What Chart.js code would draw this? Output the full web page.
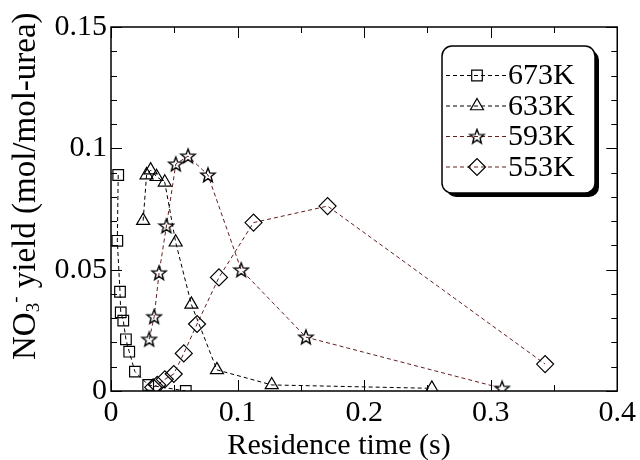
<!DOCTYPE html>
<html>
<head>
<meta charset="UTF-8">
<title>NO3- yield</title>
<script src="https://cdn.jsdelivr.net/npm/chart.js@4/dist/chart.umd.min.js"></script>
<style>
  body { margin: 0; background: #fff; font-family: "Liberation Serif", "Times New Roman", serif; }
  #wrap { width: 640px; height: 460px; }
</style>
</head>
<body>
<div id="wrap"><canvas id="chart-no3" width="640" height="460"></canvas></div>

<script>
  // residence time (s) and NO3- yield, one pair of arrays per temperature
  const labels = ["673K", "633K", "593K", "553K"];

  const t673 = [0.0057, 0.0050, 0.0071, 0.0077, 0.0097, 0.0118, 0.0144, 0.0189, 0.0294, 0.0591];
  const y673 = [0.0890, 0.0619, 0.0409, 0.0324, 0.0290, 0.0213, 0.0162, 0.0080, 0.0025, 0.0000];

  const t633 = [0.0254, 0.0281, 0.0313, 0.0360, 0.0425, 0.0511, 0.0635, 0.0837, 0.1270, 0.2535];
  const y633 = [0.0702, 0.0890, 0.0910, 0.0883, 0.0860, 0.0613, 0.0357, 0.0087, 0.0025, 0.0011];

  const t593 = [0.0302, 0.0341, 0.0380, 0.0438, 0.0512, 0.0609, 0.0766, 0.1029, 0.1540, 0.3090];
  const y593 = [0.0213, 0.0306, 0.0487, 0.0680, 0.0935, 0.0968, 0.0890, 0.0499, 0.0222, 0.0011];

  const t553 = [0.0333, 0.0365, 0.0425, 0.0496, 0.0575, 0.0680, 0.0853, 0.1126, 0.1711, 0.3430];
  const y553 = [0.0015, 0.0025, 0.0048, 0.0070, 0.0155, 0.0276, 0.0468, 0.0694, 0.0762, 0.0111];

  const xTickLabels = ["0", "0.1", "0.2", "0.3", "0.4"];
  const yTickLabels = ["0", "0.05", "0.1", "0.15"];

  const FONT = "'Liberation Serif', 'DejaVu Serif', serif";
  const DARK_RED = "#641e1e";

  function pairs(xs, ys) {
    return xs.map((x, i) => ({ x: x, y: ys[i] }));
  }

  // hollow five point star, chart.js has no such point style
  function makeStar() {
    let c = document.createElement("canvas");
    c.width = 18;
    c.height = 18;
    let g = c.getContext("2d");
    g.beginPath();
    for (let i = 0; i < 10; i++) {
      let r = i % 2 == 0 ? 7.5 : 3.2;
      let a = -Math.PI / 2 + i * Math.PI / 5;
      let px = 9 + r * Math.cos(a);
      let py = 9.5 + r * Math.sin(a);
      if (i == 0) g.moveTo(px, py);
      else g.lineTo(px, py);
    }
    g.closePath();
    g.lineWidth = 1.4;
    g.strokeStyle = "#000";
    g.stroke();
    return c;
  }
  const star = makeStar();

  function series(i, xs, ys, color, style, radius) {
    return {
      label: labels[i],
      data: pairs(xs, ys),
      borderColor: color,
      borderWidth: 1,
      borderDash: [4, 3],
      pointStyle: style,
      pointRadius: radius,
      pointBorderColor: "#000",
      pointBorderWidth: 1.2,
      pointBackgroundColor: "rgba(0,0,0,0)",
      tension: 0,
    };
  }

  const data = {
    datasets: [
      series(0, t673, y673, "#000", "rect", 7.5),
      series(1, t633, y633, "#000", "triangle", 7.5),
      series(2, t593, y593, DARK_RED, star, 7),
      series(3, t553, y553, DARK_RED, "rectRot", 8.5),
    ],
  };

  // frame, inward ticks, axis titles and the boxed legend
  const decorations = {
    id: "decorations",
    afterDraw(chart) {
      const ctx = chart.ctx;
      const a = chart.chartArea;
      const xs = chart.scales.x;
      const ys = chart.scales.y;
      ctx.save();

      ctx.strokeStyle = "#000";
      ctx.lineWidth = 1.5;
      ctx.strokeRect(a.left, a.top, a.right - a.left, a.bottom - a.top);

      ctx.lineWidth = 1;
      ctx.beginPath();
      for (let k = 0; k <= 8; k++) {
        let v = k * 0.05;
        let px = Math.round(xs.getPixelForValue(v)) + 0.5;
        let len = k % 2 == 0 ? 11 : 6;
        ctx.moveTo(px, a.bottom);
        ctx.lineTo(px, a.bottom - len);
        ctx.moveTo(px, a.top);
        ctx.lineTo(px, a.top + len);
      }
      for (let k = 0; k <= 15; k++) {
        let v = k * 0.01;
        let py = Math.round(ys.getPixelForValue(v)) + 0.5;
        let len = k % 5 == 0 ? 11 : 6;
        ctx.moveTo(a.left, py);
        ctx.lineTo(a.left + len, py);
        ctx.moveTo(a.right, py);
        ctx.lineTo(a.right - len, py);
      }
      ctx.stroke();

      // axis titles
      ctx.fillStyle = "#000";
      ctx.font = "30px " + FONT;
      ctx.textAlign = "center";
      ctx.textBaseline = "alphabetic";
      ctx.fillText("Residence time (s)", 339, 454);

      ctx.save();
      ctx.translate(35, 360);
      ctx.rotate(-Math.PI / 2);
      ctx.textAlign = "left";
      let x = 0;
      ctx.font = "33px " + FONT;
      ctx.fillText("NO", x, 0);
      x += ctx.measureText("NO").width;
      ctx.font = "19px " + FONT;
      ctx.fillText("3", x, 4);
      x += ctx.measureText("3").width;
      ctx.fillText("-", x, -14);
      x += ctx.measureText("-").width;
      ctx.font = "33px " + FONT;
      ctx.fillText(" yield (mol/mol-urea)", x, 0);
      ctx.restore();

      // legend box with shadow
      const bx = 442, by = 46, bw = 153, bh = 147, br = 10;
      ctx.fillStyle = "#000";
      ctx.beginPath();
      ctx.roundRect(bx + 4, by + 4, bw, bh, br);
      ctx.fill();
      ctx.fillStyle = "#fff";
      ctx.beginPath();
      ctx.roundRect(bx, by, bw, bh, br);
      ctx.fill();
      ctx.lineWidth = 1.5;
      ctx.strokeStyle = "#000";
      ctx.stroke();

      chart.data.datasets.forEach((ds, i) => {
        let ry = 75.5 + i * 30.5;
        ctx.setLineDash([4, 3]);
        ctx.lineWidth = 1;
        ctx.strokeStyle = ds.borderColor;
        ctx.beginPath();
        ctx.moveTo(446, ry);
        ctx.lineTo(507, ry);
        ctx.stroke();
        ctx.setLineDash([]);
        ctx.strokeStyle = "#000";
        ctx.fillStyle = "rgba(0,0,0,0)";
        ctx.lineWidth = ds.pointBorderWidth;
        Chart.helpers.drawPoint(ctx, {
          pointStyle: ds.pointStyle,
          radius: ds.pointRadius,
          rotation: 0,
          borderWidth: ds.pointBorderWidth,
        }, 477, ry);
        ctx.fillStyle = "#000";
        ctx.font = "30px " + FONT;
        ctx.textAlign = "left";
        ctx.textBaseline = "middle";
        ctx.fillText(ds.label, 508, ry + 1);
      });

      ctx.restore();
    },
  };

  const config = {
    type: "line",
    data: data,
    options: {
      animation: false,
      responsive: false,
      events: [],
      layout: { padding: { left: 0, right: 21, top: 27, bottom: 0 } },
      plugins: {
        legend: { display: false },
        tooltip: { enabled: false },
      },
      scales: {
        x: {
          type: "linear",
          min: 0,
          max: 0.4,
          grid: { display: false, drawTicks: false },
          border: { display: false },
          ticks: {
            stepSize: 0.1,
            padding: 4,
            color: "#000",
            font: { family: FONT, size: 30 },
            maxRotation: 0,
            autoSkip: false,
            callback: (v, i) => xTickLabels[i],
          },
          afterFit: (s) => { s.height = 69; },
        },
        y: {
          type: "linear",
          min: 0,
          max: 0.15,
          grid: { display: false, drawTicks: false },
          border: { display: false },
          ticks: {
            stepSize: 0.05,
            padding: 4,
            color: "#000",
            font: { family: FONT, size: 30 },
            autoSkip: false,
            callback: (v, i) => yTickLabels[i],
          },
          afterFit: (s) => { s.width = 111; },
        },
      },
    },
    plugins: [decorations],
  };

  let chart;
  document.fonts.load("30px 'Liberation Serif'").then(() => {
    chart = new Chart(document.getElementById("chart-no3"), config);
  });
</script>
</body>
</html>
